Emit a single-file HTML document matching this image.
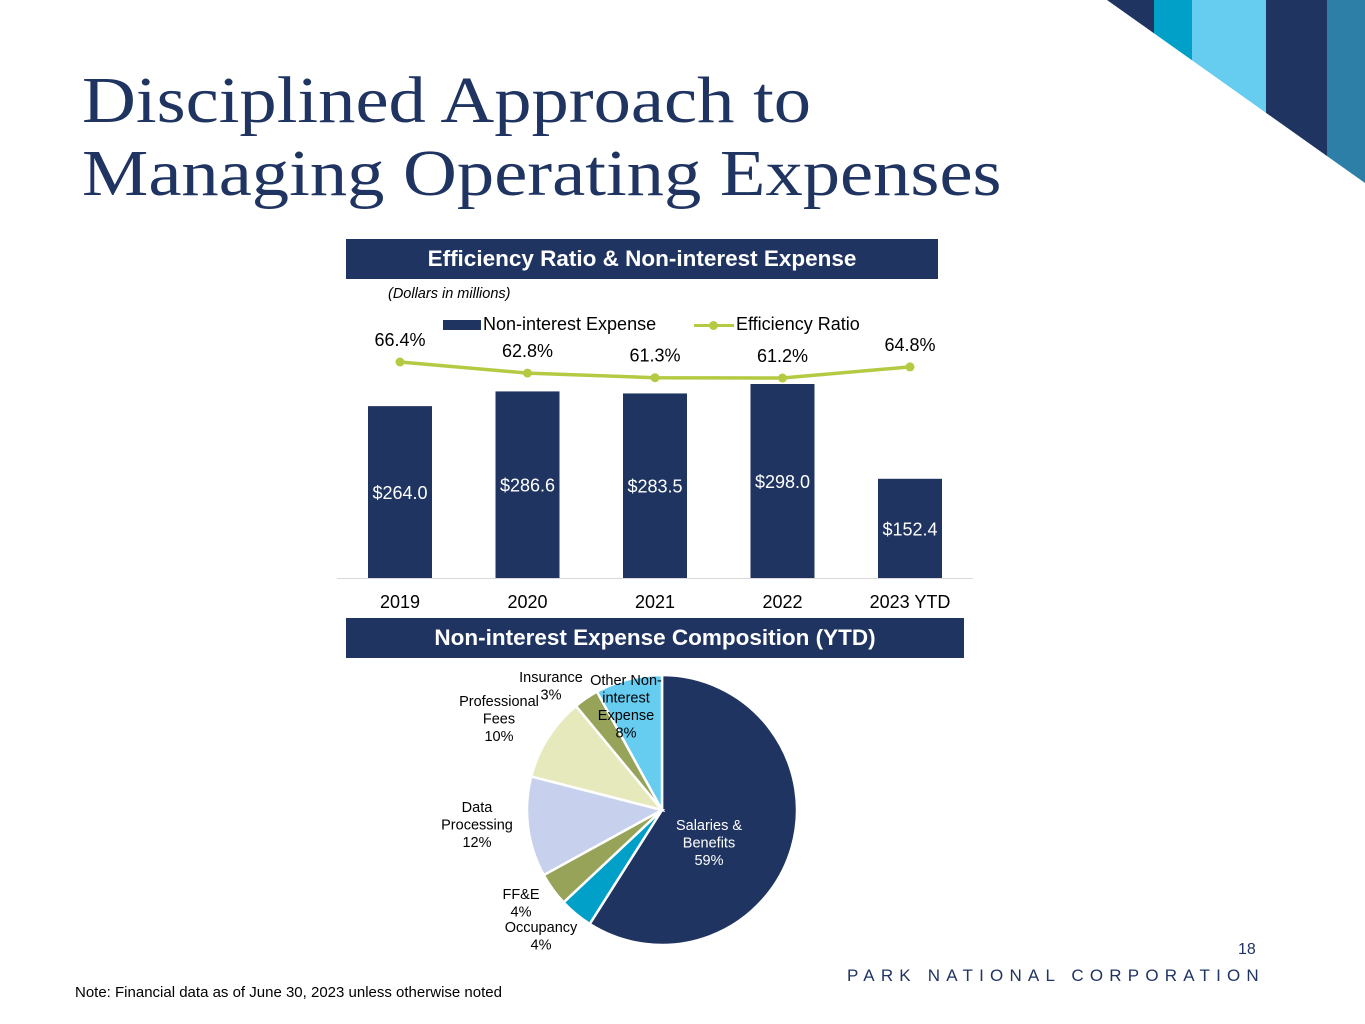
<!DOCTYPE html>
<html><head><meta charset="utf-8"><style>
body{margin:0;width:1365px;height:1024px;background:#fff;position:relative;overflow:hidden;font-family:"Liberation Sans",sans-serif}
.t{position:absolute;white-space:nowrap}
.hdr{position:absolute;background:#1f3461;color:#fff;font-weight:bold;font-size:22.5px;text-align:center;line-height:40px}
</style></head><body>
<svg style="position:absolute;left:0;top:0" width="1365" height="1024">
<defs><clipPath id="tri"><polygon points="1107,0 1365,0 1365,183"/></clipPath></defs>
<g clip-path="url(#tri)">
<rect x="1100" y="0" width="54" height="200" fill="#1f3461"/>
<rect x="1154" y="0" width="38" height="200" fill="#00a0c8"/>
<rect x="1192" y="0" width="74" height="200" fill="#66ccf0"/>
<rect x="1266" y="0" width="61" height="200" fill="#1f3461"/>
<rect x="1327" y="0" width="38" height="200" fill="#2e7fa8"/>
</g>
<g id="bars"></g><g id="pie"></g>
</svg>
<div class="t" style="left:82px;top:64px;font-family:'Liberation Serif',serif;font-size:66px;line-height:73px;color:#1f3461;transform:scaleX(1.13);transform-origin:0 0">Disciplined Approach to<br>Managing Operating Expenses</div>
<div class="hdr" style="left:346px;top:239px;width:592px">Efficiency Ratio &amp; Non-interest Expense</div>
<div class="t" style="left:388px;top:286px;font-size:14.5px;font-style:italic">(Dollars in millions)</div>
<div class="t" style="left:443px;top:314px;font-size:18px"><span style="display:inline-block;width:38px;height:10px;background:#1f3461;margin-right:2px"></span>Non-interest Expense</div>
<div class="t" style="left:694px;top:314px;font-size:18px"><span style="display:inline-block;width:40px;height:3px;background:#b5c942;vertical-align:middle;position:relative;margin-right:2px"><span style="position:absolute;left:15px;top:-3px;width:9px;height:9px;border-radius:50%;background:#b5c942"></span></span>Efficiency Ratio</div>
<div class="hdr" style="left:346px;top:618px;width:618px">Non-interest Expense Composition (YTD)</div>
<div class="t" style="left:75px;top:984px;font-size:15px">Note: Financial data as of June 30, 2023 unless otherwise noted</div>
<div class="t" style="left:1238px;top:941px;font-size:16px;color:#1f3461">18</div>
<div class="t" style="left:847px;top:966px;font-size:17px;letter-spacing:6.2px;color:#1f3461">PARK NATIONAL CORPORATION</div>
<script>
const categories=["2019","2020","2021","2022","2023 YTD"];
const expenseValues=[264.0,286.6,283.5,298.0,152.4];
const ratioValues=[66.4,62.8,61.3,61.2,64.8];
const pieLabels=[["Salaries &","Benefits","59%"],["Occupancy","4%"],["FF&E","4%"],["Data","Processing","12%"],["Professional","Fees","10%"],["Insurance","3%"],["Other Non-","interest","Expense","8%"]];
const pieValues=[59,4,4,12,10,3,8];
const pieColors=["#1f3461","#00a0c8","#98a35a","#c7d0ec","#e6e9bc","#98a35a","#66ccf0"];
const NS="http://www.w3.org/2000/svg";
function mk(tag,attrs,parent){const e=document.createElementNS(NS,tag);for(const k in attrs)e.setAttribute(k,attrs[k]);parent.appendChild(e);return e;}
const xBand=i=>400+i*127.5;
const yBar=v=>578-v*0.651;
const yRatio=v=>362-(v-66.4)*3.08;
const bg=document.getElementById('bars');
const ax=mk('line',{x1:337,x2:973,y1:578.5,y2:578.5,stroke:'#d9d9d9','stroke-width':1},bg);


expenseValues.forEach((v,i)=>{
 const r=mk('rect',{x:xBand(i)-32,y:yBar(v),width:64,height:578-yBar(v),fill:'#1f3461'},bg);
 
 
 const t=mk('text',{x:xBand(i),y:(yBar(v)+578)/2+7,'text-anchor':'middle','font-size':18,fill:'#fff','font-family':'Liberation Sans'},bg);
 t.textContent='$'+v.toFixed(1);
 
 
 const c=mk('text',{x:xBand(i),y:608,'text-anchor':'middle','font-size':18,fill:'#000','font-family':'Liberation Sans'},bg);
 c.textContent=categories[i];
 
 
});
let pts=ratioValues.map((v,i)=>xBand(i)+','+yRatio(v)).join(' ');
const pl=mk('polyline',{points:pts,fill:'none',stroke:'#b5c942','stroke-width':3.5},bg);


ratioValues.forEach((v,i)=>{
 const c=mk('circle',{cx:xBand(i),cy:yRatio(v),r:4.5,fill:'#b5c942'},bg);
 
 
 const t=mk('text',{x:xBand(i),y:yRatio(v)-16,'text-anchor':'middle','font-size':18,fill:'#000','font-family':'Liberation Sans'},bg);
 t.textContent=v.toFixed(1)+'%';
 
 
});
const pg=document.getElementById('pie');
const cx=662,cy=810,R=135;
const total=pieValues.reduce((a,b)=>a+b,0);
const labelPos=[[709,830,'#fff'],[541,932,'#000'],[521,899,'#000'],[477,812,'#000'],[499,706,'#000'],[551,682,'#000'],[626,685,'#000']];
let a0=0;
pieValues.forEach((v,i)=>{
 const a1=a0+v/total*2*Math.PI;
 const p=(a)=>[cx+R*Math.sin(a),cy-R*Math.cos(a)];
 const [x0,y0]=p(a0),[x1,y1]=p(a1);
 const s=mk('path',{d:`M${cx},${cy}L${x0},${y0}A${R},${R} 0 ${a1-a0>Math.PI?1:0} 1 ${x1},${y1}Z`,fill:pieColors[i],stroke:'#fff','stroke-width':2.5},pg);
 
 
 a0=a1;
});
pieLabels.forEach((ls,i)=>{
 const [lx,ly,col]=labelPos[i];
 const t=mk('text',{x:lx,y:ly,'text-anchor':'middle','font-size':14.5,fill:col,'font-family':'Liberation Sans'},pg);
 
 
 ls.forEach((l,j)=>{const ts=mk('tspan',{x:lx,dy:j?17.5:0},t);ts.textContent=l;});
});
</script>
</body></html>
